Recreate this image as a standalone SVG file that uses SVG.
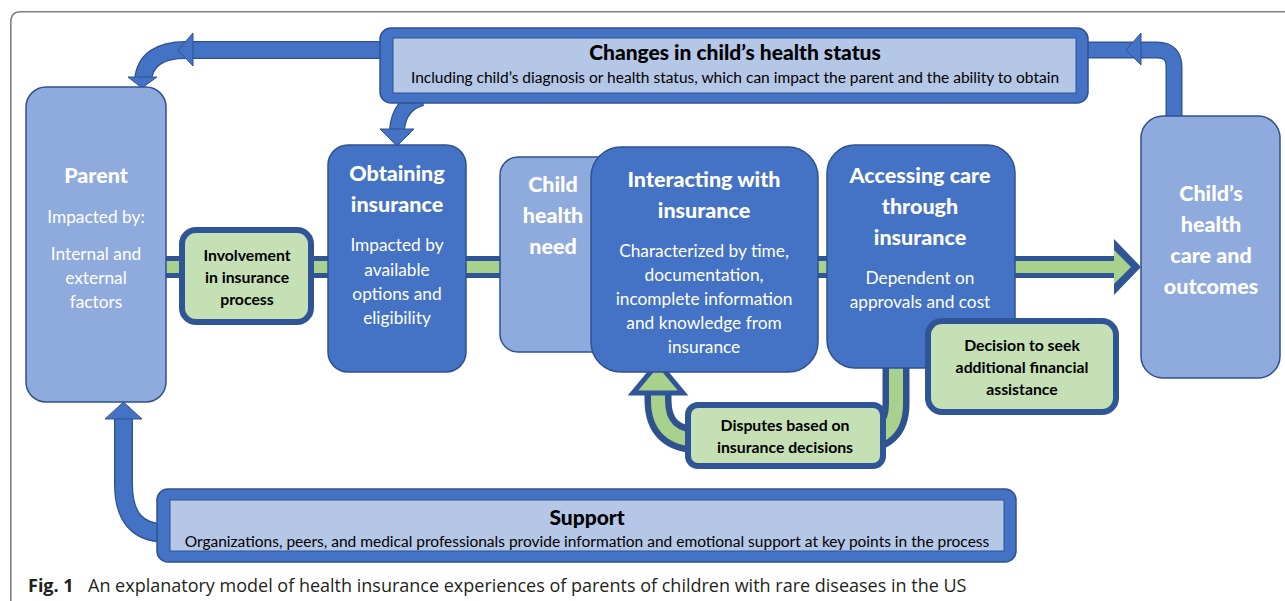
<svg xmlns="http://www.w3.org/2000/svg" width="1285" height="601" viewBox="0 0 1285 601">
  <style>
    .frame { fill: none; stroke: #7f7f7f; stroke-width: 1.6; }
    .mid { fill: #4472c4; stroke: #2f528f; stroke-width: 1.5; }
    .light { fill: #8faadc; stroke: #2f528f; stroke-width: 1.5; }
    .band-inner { fill: #b4c7e7; stroke: #2f528f; stroke-width: 1; }
    .green { fill: #c5e0b4; stroke: #2f5597; stroke-width: 6; }
    .t { font-family: Lato, "Open Sans", sans-serif; text-anchor: middle; }
    .wt { fill: #ffffff; font-weight: 900; font-size: 21.5px; }
    .wb { fill: #ffffff; font-size: 17.3px; }
    .bt { fill: #000000; font-weight: bold; font-size: 15.8px; }
    .ht { fill: #000000; font-weight: 900; font-size: 21px; }
    .hs { fill: #000000; font-size: 15.5px; }
    .arrow-o { fill: none; stroke: #2f528f; }
    .arrow-i { fill: none; stroke: #4472c4; }
    .head { fill: #4472c4; stroke: #2f528f; stroke-width: 1; stroke-linejoin: miter; }
  </style>

  <!-- figure frame (top and left edges) -->
  <path class="frame" d="M10.8,700 V22 Q10.8,11.8 21,11.8 H1300"/>

  <g id="connectors">
    <!-- green process band running through the middle -->
    <rect x="160" y="256" width="958" height="22" fill="#2f5597"/>
    <rect x="160" y="261" width="960" height="12" fill="#a9d18e"/>
    <polygon points="1114,239 1141,267 1114,295" fill="#2f5597"/>
    <polygon points="1114,250 1131,267 1114,284" fill="#a9d18e"/>

    <!-- disputes loop -->
    <path d="M896,360 V404 Q896,440 858,440 H700 Q658,440 658,400 V390" class="arrow-o" stroke="#2f5597" stroke-width="27"/>
    <path d="M896,360 V404 Q896,440 858,440 H700 Q658,440 658,400 V388" fill="none" stroke="#a9d18e" stroke-width="14"/>
    <polygon points="633,393 683,393 658,363" fill="#a9d18e" stroke="#2f5597" stroke-width="5" stroke-linejoin="miter"/>

    <!-- changes -> parent -->
    <path d="M390,50 H186 Q146,50 143,80" class="arrow-o" stroke-width="18"/>
    <path d="M390,50 H186 Q146,50 143,80" class="arrow-i" stroke-width="15.5"/>
    <polygon class="head" points="193,33 178,50 193,66 193,58 193,42"/>
    <polygon class="head" points="128,77 157,77 142,88"/>

    <!-- changes -> obtaining insurance -->
    <path d="M422,98 Q399,104 397,130" class="arrow-o" stroke-width="16"/>
    <path d="M422,98 Q399,104 397,130" class="arrow-i" stroke-width="13.5"/>
    <polygon class="head" points="380,129 414,129 397,146"/>

    <!-- child's health care -> changes -->
    <path d="M1174,118 V67 Q1174,50 1157,50 H1082" class="arrow-o" stroke-width="17"/>
    <path d="M1174,118 V67 Q1174,50 1157,50 H1082" class="arrow-i" stroke-width="14.5"/>
    <polygon class="head" points="1141,33 1126,50 1141,65"/>

    <!-- support -> parent -->
    <path d="M123.5,418 V484 Q123.5,533 165,533" class="arrow-o" stroke-width="19"/>
    <path d="M123.5,418 V484 Q123.5,533 165,533" class="arrow-i" stroke-width="16.5"/>
    <polygon class="head" points="105,419 142,419 123.5,402"/>
  </g>

  <g id="changes">
    <rect class="mid" x="380" y="28" width="708" height="75" rx="11"/>
    <rect class="band-inner" x="393" y="38" width="683" height="55"/>
    <text class="t ht" x="735" y="60">Changes in child’s health status</text>
    <text class="t hs" x="735" y="83">Including child’s diagnosis or health status, which can impact the parent and the ability to obtain</text>
  </g>

  <g id="parent">
    <rect class="light" x="26" y="87" width="140" height="315" rx="20"/>
    <text class="t wt" x="96" y="183">Parent</text>
    <text class="t wb" x="96" y="223">Impacted by:</text>
    <text class="t wb" x="96" y="260">Internal and</text>
    <text class="t wb" x="96" y="284">external</text>
    <text class="t wb" x="96" y="308">factors</text>
  </g>

  <g id="involvement">
    <rect class="green" x="182" y="230" width="129" height="92" rx="14"/>
    <text class="t bt" x="247" y="261">Involvement</text>
    <text class="t bt" x="247" y="283">in insurance</text>
    <text class="t bt" x="247" y="305">process</text>
  </g>

  <g id="obtaining">
    <rect class="mid" x="328" y="145" width="138" height="227" rx="20"/>
    <text class="t wt" x="397" y="181">Obtaining</text>
    <text class="t wt" x="397" y="212">insurance</text>
    <text class="t wb" x="397" y="251">Impacted by</text>
    <text class="t wb" x="397" y="276">available</text>
    <text class="t wb" x="397" y="300">options and</text>
    <text class="t wb" x="397" y="324">eligibility</text>
  </g>

  <g id="child-need">
    <rect class="light" x="500" y="157" width="115" height="195" rx="18"/>
    <text class="t wt" x="553" y="192">Child</text>
    <text class="t wt" x="553" y="223">health</text>
    <text class="t wt" x="553" y="254">need</text>
  </g>

  <g id="interacting">
    <rect class="mid" x="591" y="147" width="227" height="225" rx="30"/>
    <text class="t wt" x="704" y="187">Interacting with</text>
    <text class="t wt" x="704" y="218">insurance</text>
    <text class="t wb" x="704" y="257">Characterized by time,</text>
    <text class="t wb" x="704" y="281">documentation,</text>
    <text class="t wb" x="704" y="305">incomplete information</text>
    <text class="t wb" x="704" y="329">and knowledge from</text>
    <text class="t wb" x="704" y="353">insurance</text>
  </g>

  <g id="accessing">
    <rect class="mid" x="827" y="145" width="188" height="223" rx="28"/>
    <text class="t wt" x="920" y="183">Accessing care</text>
    <text class="t wt" x="920" y="214">through</text>
    <text class="t wt" x="920" y="245">insurance</text>
    <text class="t wb" x="920" y="284">Dependent on</text>
    <text class="t wb" x="920" y="308">approvals and cost</text>
  </g>

  <g id="decision">
    <rect class="green" x="928" y="321" width="188" height="91" rx="14"/>
    <text class="t bt" x="1022" y="351">Decision to seek</text>
    <text class="t bt" x="1022" y="373">additional financial</text>
    <text class="t bt" x="1022" y="395">assistance</text>
  </g>

  <g id="disputes">
    <rect class="green" x="688" y="405" width="195" height="61" rx="10"/>
    <text class="t bt" x="785" y="431">Disputes based on</text>
    <text class="t bt" x="785" y="453">insurance decisions</text>
  </g>

  <g id="outcomes">
    <rect class="light" x="1141" y="116" width="139" height="262" rx="22"/>
    <text class="t wt" x="1211" y="201">Child’s</text>
    <text class="t wt" x="1211" y="232">health</text>
    <text class="t wt" x="1211" y="263">care and</text>
    <text class="t wt" x="1211" y="294">outcomes</text>
  </g>

  <g id="support">
    <rect class="mid" x="157" y="489" width="859" height="73" rx="11"/>
    <rect class="band-inner" x="170" y="500" width="834" height="51"/>
    <text class="t ht" x="587" y="525">Support</text>
    <text class="t hs" x="587" y="547">Organizations, peers, and medical professionals provide information and emotional support at key points in the process</text>
  </g>

  <!-- caption -->
  <text x="28" y="592" font-family="'Open Sans', 'Noto Sans', sans-serif" font-size="18" fill="#231f20"><tspan font-weight="bold">Fig. 1</tspan><tspan x="88">An explanatory model of health insurance experiences of parents of children with rare diseases in the US</tspan></text>
</svg>
